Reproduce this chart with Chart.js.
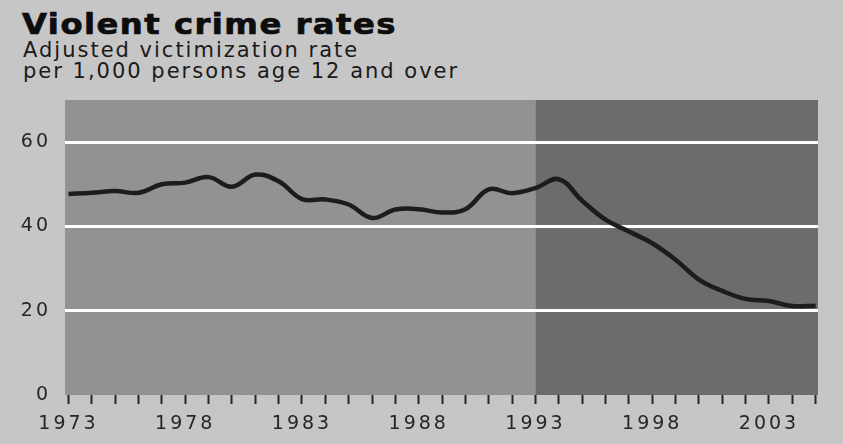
<!DOCTYPE html>
<html>
<head>
<meta charset="utf-8">
<script src="https://cdn.jsdelivr.net/npm/chart.js@4.4.0/dist/chart.umd.min.js"></script>
<style>
	html, body { margin: 0; padding: 0; }
	body {
		width: 843px;
		height: 444px;
		background: #c6c6c6;
		position: relative;
		overflow: hidden;
		font-family: "DejaVu Sans", sans-serif;
	}
	#title {
		position: absolute;
		left: 22px;
		top: 11px;
		font-size: 28px;
		line-height: 28px;
		font-weight: bold;
		color: #0d0d0d;
		letter-spacing: 1.3px;
		-webkit-text-stroke: 0.7px #0d0d0d;
		transform: scaleX(1.15);
		transform-origin: 0 0;
		white-space: nowrap;
	}
	#subtitle {
		position: absolute;
		left: 23px;
		top: 40px;
		font-size: 21px;
		line-height: 21px;
		letter-spacing: 2px;
		color: #1a1a1a;
		white-space: nowrap;
	}
	#wrap { position: absolute; left: 0; top: 0; width: 843px; height: 444px; }
</style>
</head>
<body>
<div id="title">Violent crime rates</div>
<div id="subtitle">Adjusted victimization rate<br>per 1,000 persons age 12 and over</div>
<div id="wrap"><canvas id="chart" width="843" height="444"></canvas></div>
<script>
// DATA
const years = [
	1973, 1974, 1975, 1976, 1977, 1978, 1979, 1980, 1981, 1982, 1983,
	1984, 1985, 1986, 1987, 1988, 1989, 1990, 1991, 1992, 1993, 1994,
	1995, 1996, 1997, 1998, 1999, 2000, 2001, 2002, 2003, 2004, 2005
];
const rates = [
	47.7, 48.0, 48.4, 48.0, 50.0, 50.4, 51.7, 49.4, 52.3, 50.7, 46.5,
	46.4, 45.2, 42.0, 44.0, 44.1, 43.3, 44.1, 48.8, 47.9, 49.1, 51.2,
	46.1, 41.6, 38.8, 36.0, 32.1, 27.4, 24.7, 22.8, 22.3, 21.1, 21.2
];
const year_labels = [1973, 1978, 1983, 1988, 1993, 1998, 2003];
const y_ticks = [0, 20, 40, 60];
const split_year = 1993;

// two tone plot background, split at 1993
const shade_plugin = {
	id: "shade",
	beforeDraw(chart) {
		const { ctx, chartArea, scales } = chart;
		const split = scales.x.getPixelForValue(split_year);
		ctx.save();
		ctx.fillStyle = "#929292";
		ctx.fillRect(chartArea.left, chartArea.top, split - chartArea.left, chartArea.height);
		ctx.fillStyle = "#6c6c6c";
		ctx.fillRect(split, chartArea.top, chartArea.right - split, chartArea.height);
		ctx.restore();
		// the tick labels in the original are widely spaced
		ctx.letterSpacing = "3px";
	}
};

const ctx = document.getElementById("chart");
const tick_font = { family: "DejaVu Sans", size: 19 };

new Chart(ctx, {
	type: "line",
	data: {
		datasets: [{
			data: years.map((year, i) => ({ x: year, y: rates[i] })),
			borderColor: "#1c1c1c",
			borderWidth: 4.5,
			pointRadius: 0,
			tension: 0.4,
			fill: false
		}]
	},
	options: {
		responsive: false,
		animation: false,
		events: [],
		layout: { padding: { top: 100, right: 25, left: 0, bottom: 0 } },
		scales: {
			x: {
				type: "linear",
				min: 1972.85,
				max: 2005.1,
				afterBuildTicks: scale => { scale.ticks = years.map(v => ({ value: v })); },
				afterFit: scale => { scale.height = 49; },
				border: { display: false },
				grid: {
					drawOnChartArea: false,
					drawTicks: true,
					tickLength: 9,
					tickWidth: 2,
					tickColor: "#262626"
				},
				ticks: {
					autoSkip: false,
					maxRotation: 0,
					padding: 9,
					color: "#262626",
					font: tick_font,
					callback: value => year_labels.includes(value) ? String(value) : ""
				}
			},
			y: {
				type: "linear",
				min: 0,
				max: 70,
				afterBuildTicks: scale => { scale.ticks = y_ticks.map(v => ({ value: v })); },
				afterFit: scale => { scale.width = 65; },
				border: { display: false },
				grid: {
					drawTicks: false,
					lineWidth: 3,
					color: c => c.tick && c.tick.value === 0 ? "rgba(0,0,0,0)" : "#ffffff"
				},
				ticks: {
					padding: 14,
					color: "#262626",
					font: tick_font
				}
			}
		},
		plugins: {
			legend: { display: false },
			tooltip: { enabled: false }
		}
	},
	plugins: [shade_plugin]
});
</script>
</body>
</html>
